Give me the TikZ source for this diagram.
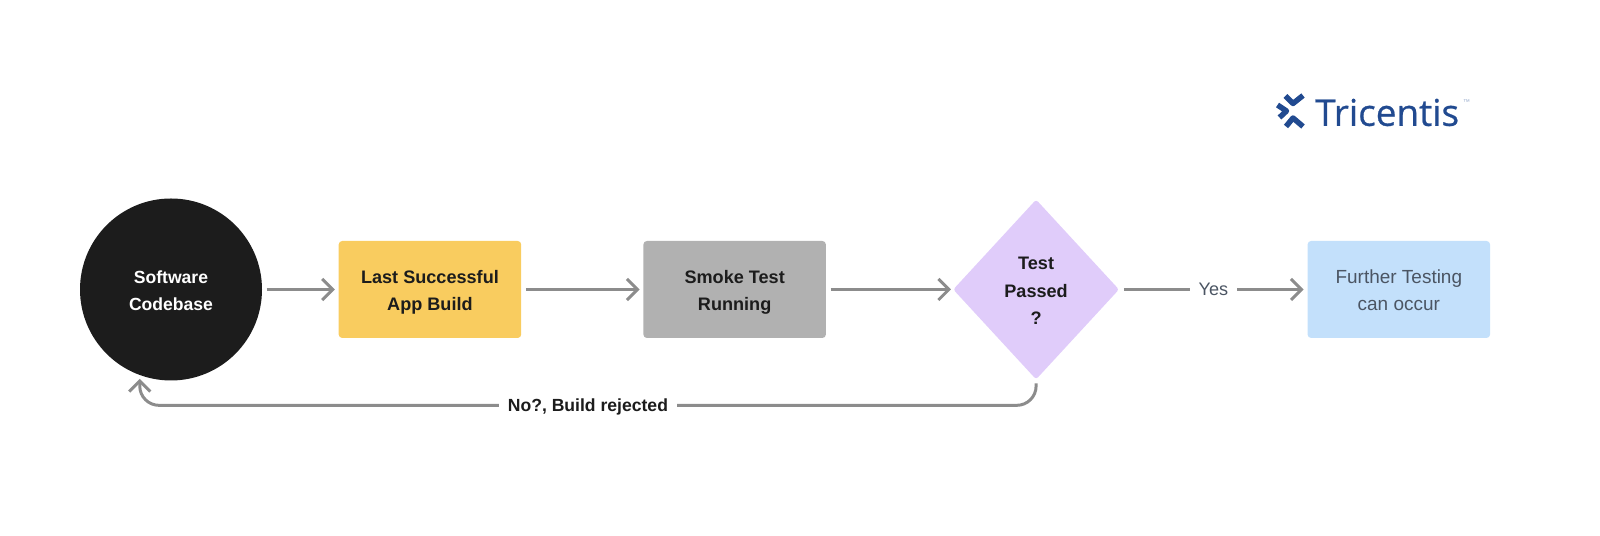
\documentclass[tikz,border=0pt]{standalone}
\usepackage{fontspec}
\usepackage{xcolor}
\usepackage{tikz}
\setmainfont{Liberation Sans}
\newfontfamily\logofont[FakeBold=0.6]{Open Sans}
\usetikzlibrary{shapes.geometric, arrows.meta, positioning, calc}
\definecolor{inkblack}{HTML}{1c1c1c}
\definecolor{buildyellow}{HTML}{f9cc5f}
\definecolor{smokegray}{HTML}{b1b1b1}
\definecolor{testpurple}{HTML}{e0ccfa}
\definecolor{furtherblue}{HTML}{c3e0fb}
\definecolor{linegray}{HTML}{8c8c8c}
\definecolor{softtext}{HTML}{4b5563}
\definecolor{logoblue}{HTML}{214a90}

\begin{document}
\begin{tikzpicture}[
  every node/.style={font=\fontsize{10.3}{15.5}\selectfont,align=center},
  box/.style={rectangle,rounded corners=2pt,minimum width=3.65cm,minimum height=1.94cm,inner sep=2pt,text height=24.1pt,text depth=0pt},
  codebase/.style={circle,fill=inkblack,text=white,minimum size=3.64cm,inner sep=0pt,text height=24.1pt,text depth=0pt,font=\fontsize{10}{15.5}\selectfont\bfseries},
  build/.style={box,fill=buildyellow,text=inkblack,font=\fontsize{10.3}{15.5}\selectfont\bfseries},
  smoke/.style={box,fill=smokegray,text=inkblack,font=\fontsize{10.3}{15.5}\selectfont\bfseries},
  decision/.style={diamond,aspect=0.917,fill=testpurple,text=inkblack,minimum width=3.32cm,minimum height=3.6cm,inner sep=0pt,rounded corners=1.5pt,text height=39.7pt,text depth=0pt,font=\fontsize{10.3}{15.5}\selectfont\bfseries},
  further/.style={box,fill=furtherblue,text=softtext,font=\fontsize{10.8}{15.5}\selectfont},
  arr/.style={-{Straight Barb[length=6pt,width=12pt]},line width=1.7pt,color=linegray,shorten <=2.5pt,shorten >=2pt},
  lbl/.style={sharp corners,fill=white,inner xsep=5pt,inner ysep=2pt,text depth=0pt},
  logomark/.style={line width=3.1pt,line join=round,color=logoblue}
]
\useasboundingbox (0,0) rectangle (32,10.72);
\node[codebase] (code) at (3.42,4.93) {Software\\Codebase};
\node[build, right=1.52cm of code] (last) {Last Successful\\App Build};
\node[smoke, right=2.43cm of last] (run) {Smoke Test\\Running};
\node[decision, right=2.53cm of run] (test) {Test\\Passed\\?};
\node[further, right=3.755cm of test] (more) {Further Testing\\can occur};
\coordinate[below=0.51cm of test.south] (low);
\draw[arr] (code) -- (last);
\draw[arr] (last) -- (run);
\draw[arr,shorten >=1pt] (run) -- (test);
\draw[arr] (test) -- node[lbl,text=softtext,pos=0.5] (yes) {Yes} (more);
\draw[arr,rounded corners=11pt,shorten <=2pt] (test.south) -- (low) -| node[lbl,text=inkblack,pos=0.25,font=\fontsize{10}{15.5}\selectfont\bfseries] (no) {No?, Build rejected} (code.250);
% logo
\node[logomark,text=logoblue,font=\logofont\fontsize{21}{24}\selectfont,inner sep=0pt,anchor=west] (logo) at (26.25,8.47) {Tricentis};
\node[text=logoblue!45,font=\fontsize{4}{4}\selectfont,inner sep=0pt,anchor=west] (tm) at ($(logo.east)+(0.02,0.2)$) {™};
\draw[logomark] (25.71,8.80) -- (25.86,8.65) -- (26.06,8.81);
\draw[logomark] (25.72,8.19) -- (25.86,8.36) -- (26.06,8.19);
\draw[logomark] (25.55,8.62) -- (25.73,8.50) -- (25.59,8.37);
\end{tikzpicture}
\end{document}
